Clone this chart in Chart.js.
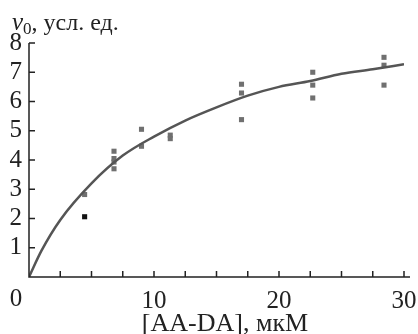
<!DOCTYPE html>
<html>
<head>
<meta charset="utf-8">
<script src="https://cdn.jsdelivr.net/npm/chart.js@4/dist/chart.umd.min.js"></script>
<style>
  html, body { margin:0; padding:0; background:#fff; }
  #wrap { width:418px; height:334px; }
</style>
</head>
<body>
<div id="wrap"><canvas id="chart"></canvas></div>
<script>

// measured points, [AA-DA] (мкМ) and v0
const pointX = [4.45, 4.45, 6.8, 6.8, 6.8, 6.8, 9.0, 9.0, 11.3, 11.3,
                17.0, 17.0, 17.0, 22.7, 22.7, 22.7, 28.4, 28.4, 28.4];
const pointY = [2.06, 2.82, 4.3, 4.05, 3.93, 3.7, 5.05, 4.47, 4.85, 4.73,
                6.59, 6.29, 5.38, 7.0, 6.56, 6.12, 7.51, 7.24, 6.56];

// fitted curve
const curveX = [0, 1, 2.5, 5, 7.5, 10, 12.5, 15, 17.5, 20, 22.5, 25, 27.5, 30];
const curveY = [0, 0.9, 1.95, 3.2, 4.15, 4.8, 5.35, 5.8, 6.2, 6.5, 6.7, 6.95, 7.1, 7.27];

const xTickLabels = [0, 10, 20, 30];
const yTickLabels = [1, 2, 3, 4, 5, 6, 7, 8];

const serif = "'Liberation Serif', 'DejaVu Serif', serif";
const ink = "#222";

const axisDecor = {
    id: "axisDecor",
    afterDraw(chart){
        const ctx = chart.ctx;
        const xs = chart.scales.x;
        const ys = chart.scales.y;

        ctx.save();
        ctx.strokeStyle = ink;
        ctx.lineWidth = 1.5;

        // inward tick marks
        ctx.beginPath();
        xs.ticks.forEach((t, i) => {
            const px = xs.getPixelForTick(i);
            ctx.moveTo(px, xs.top);
            ctx.lineTo(px, xs.top - 6);
        });
        ys.ticks.forEach((t, i) => {
            const py = ys.getPixelForTick(i);
            ctx.moveTo(ys.right, py);
            ctx.lineTo(ys.right + 6, py);
        });
        // axis lines
        ctx.moveTo(ys.right, ys.getPixelForValue(8));
        ctx.lineTo(ys.right, xs.top);
        ctx.lineTo(xs.right + 6, xs.top);
        ctx.stroke();

        ctx.fillStyle = ink;

        // origin label
        ctx.font = "25px " + serif;
        ctx.textAlign = "center";
        ctx.textBaseline = "top";
        ctx.fillText("0", xs.left - 13, xs.top + 10);

        // x axis title
        ctx.font = "26px " + serif;
        ctx.textBaseline = "alphabetic";
        ctx.fillText("[AA-DA], мкМ", 225, 331);

        // y axis title at the top
        ctx.textAlign = "left";
        let x = 12;
        const base = 30;
        ctx.font = "italic 25px " + serif;
        ctx.fillText("v", x, base);
        x += ctx.measureText("v").width;
        ctx.font = "17px " + serif;
        ctx.fillText("0", x, base + 4);
        x += ctx.measureText("0").width;
        ctx.font = "24px " + serif;
        ctx.fillText(", усл. ед.", x, base);
        ctx.restore();
    }
};

new Chart(

    document.getElementById("chart"),

    {

        type:"scatter",

        data:{

            datasets:[

                {
                    type:"line",
                    data:curveX.map((x, i) => ({x:x, y:curveY[i]})),
                    borderColor:"#555",
                    borderWidth:2.5,
                    pointRadius:0,
                    cubicInterpolationMode:"monotone",
                    fill:false
                },

                {
                    data:pointX.map((x, i) => ({x:x, y:pointY[i]})),
                    pointStyle:"rect",
                    pointRadius:3.6,
                    borderWidth:0,
                    backgroundColor:ctx => ctx.dataIndex === 0 ? "#111" : "#707070"
                }

            ]

        },

        options:{

            responsive:true,
            maintainAspectRatio:false,
            animation:false,
            events:[],

            layout:{ padding:{ left:0, right:14, top:43, bottom:0 } },

            plugins:{
                legend:{ display:false },
                tooltip:{ enabled:false }
            },

            scales:{

                x:{
                    type:"linear",
                    min:0,
                    max:30,
                    afterFit:s => {
                        s.height = 57;
                        s.paddingLeft = 0;
                        s.paddingRight = 0;
                    },
                    afterBuildTicks:s => {
                        s.ticks = [];
                        for (let v = 0; v <= 30; v += 2.5) s.ticks.push({value:v});
                    },
                    grid:{ display:false, drawTicks:false },
                    border:{ display:false },
                    ticks:{
                        autoSkip:false,
                        maxRotation:0,
                        padding:9,
                        color:ink,
                        font:{ family:serif, size:25 },
                        callback:v => (xTickLabels.includes(v) && v !== 0) ? String(v) : ""
                    }
                },

                y:{
                    type:"linear",
                    min:0,
                    max:8,
                    afterFit:s => {
                        s.width = 29;
                        s.paddingTop = 0;
                        s.paddingBottom = 0;
                    },
                    afterBuildTicks:s => {
                        s.ticks = yTickLabels.map(v => ({value:v}));
                    },
                    grid:{ display:false, drawTicks:false },
                    border:{ display:false },
                    ticks:{
                        padding:7,
                        color:ink,
                        font:{ family:serif, size:25 }
                    }
                }

            }

        },

        plugins:[axisDecor]

    }

);

</script>
</body>
</html>
